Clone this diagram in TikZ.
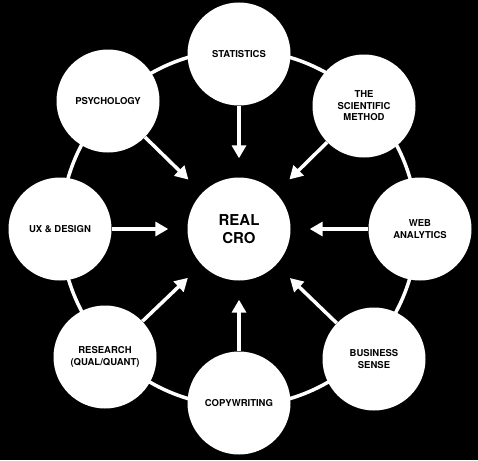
\documentclass[tikz,border=0pt]{standalone}
\usepackage{fontspec}
\setmainfont{TeX Gyre Heros}
\usetikzlibrary{arrows.meta}
\begin{document}
\begin{tikzpicture}[x=1pt,y=-1pt,
  bubble/.style={circle,fill=white,draw=none,minimum size=103pt,inner sep=0pt,align=center,
    font=\bfseries\fontsize{9.5}{11.5}\selectfont,text=black},
  hub/.style={bubble,font=\bfseries\fontsize{15}{18}\selectfont},
  feed/.style={draw=white,line width=3.5pt,-{Triangle[length=13pt,width=14pt]},shorten >=19pt}]
\fill[black] (0,0) rectangle (478,460);
\useasboundingbox (0,0) rectangle (478,460);
\draw[white,line width=3.5pt] (239,228) circle[radius=178];
\node[hub] (cro) at (239,229) {REAL\\CRO};
\node[bubble] (stat) at (239,54) {STATISTICS};
\node[bubble] (sci) at (364,106) {THE\\SCIENTIFIC\\METHOD};
\node[bubble] (web) at (420,229) {WEB\\ANALYTICS};
\node[bubble] (bus) at (374,359) {BUSINESS\\SENSE};
\node[bubble] (copy) at (239,403) {COPYWRITING};
\node[bubble] (res) at (105,357) {RESEARCH\\(QUAL/QUANT)};
\node[bubble] (ux) at (60,229) {UX \& DESIGN};
\node[bubble] (psy) at (108,101) {PSYCHOLOGY};
\foreach \n in {stat,sci,web,bus,copy,res,ux,psy}
  \draw[feed] (\n) -- (cro);
\end{tikzpicture}
\end{document}
